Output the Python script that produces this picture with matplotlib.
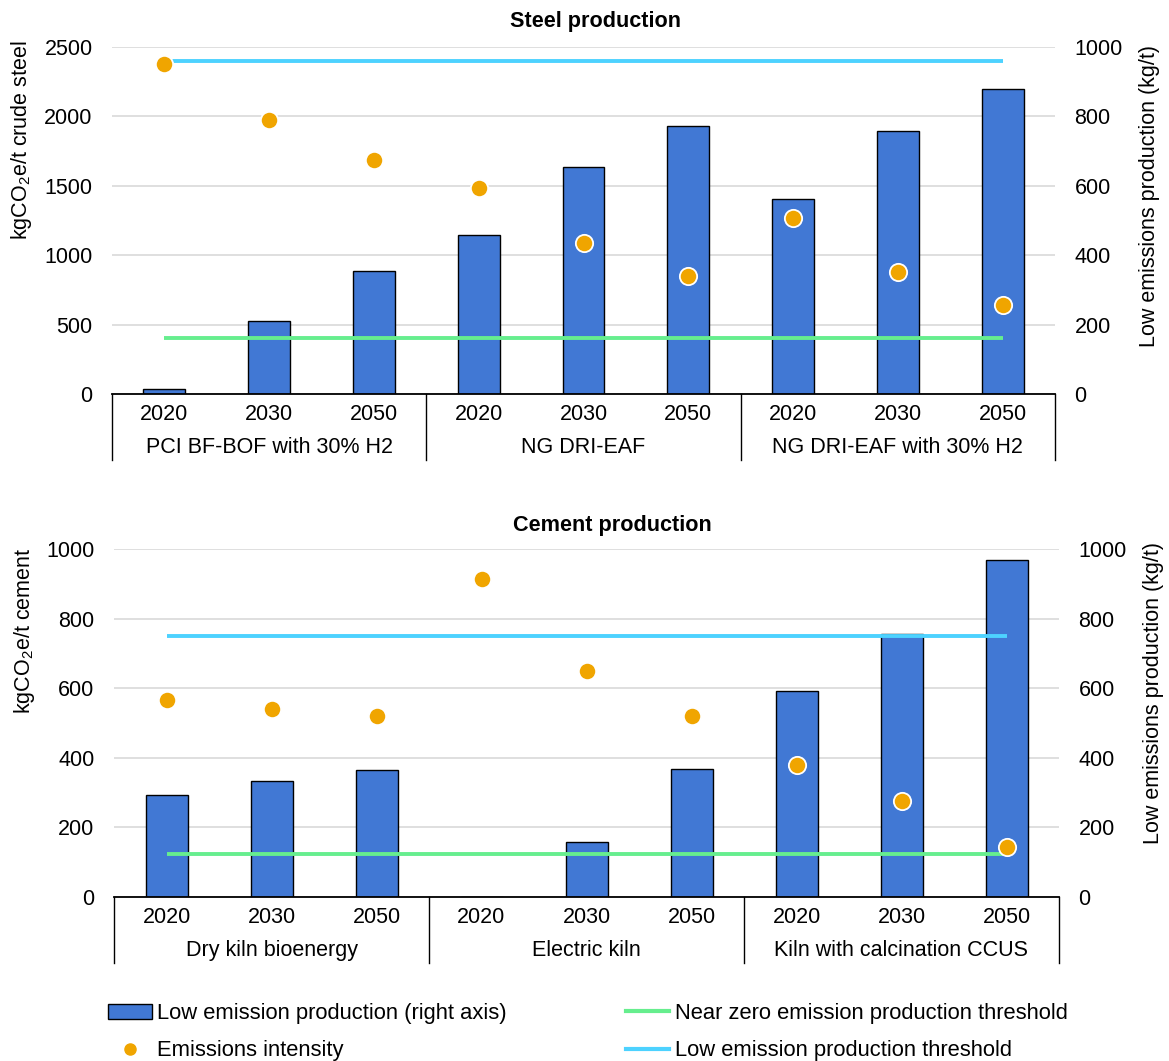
import matplotlib.pyplot as plt
import matplotlib.transforms as mtransforms
from matplotlib.lines import Line2D
from matplotlib.patches import Patch
import numpy as np

plt.rcParams['font.family'] = ['Liberation Sans', 'DejaVu Sans']
plt.rcParams['mathtext.fontset'] = 'custom'
plt.rcParams['mathtext.rm'] = 'Liberation Sans'
plt.rcParams['mathtext.it'] = 'Liberation Sans'
plt.rcParams['font.size'] = 15.5

years = ['2020', '2030', '2050']

# steel
steel_groups = ['PCI BF-BOF with 30% H2', 'NG DRI-EAF', 'NG DRI-EAF with 30% H2']
steel_prod = [14, 211, 355, 458, 654, 773, 562, 759, 878]
steel_intensity = [2375, 1975, 1685, 1485, 1088, 850, 1270, 878, 640]
steel_near_zero = 400
steel_low = 2400

# cement
cement_groups = ['Dry kiln bioenergy', 'Electric kiln', 'Kiln with calcination CCUS']
cement_prod = [294, 334, 366, 0, 158, 367, 591, 757, 968]
cement_intensity = [565, 540, 519, 914, 649, 519, 379, 275, 144]
cement_near_zero = 125
cement_low = 750

BAR = '#4178D4'
DOT = '#F0A500'
GREEN = '#66EE8E'
CYAN = '#4DD2FF'
GRID = '#D9D9D9'

fig = plt.figure(figsize=(11.69, 10.61), dpi=100)


def panel(rect, groups, prod, intensity, near_zero, low, lmax, lstep, rmax, rstep):
    ax = fig.add_axes(rect)
    ax2 = ax.twinx()
    ax.set_zorder(ax2.get_zorder() + 1)
    ax.patch.set_visible(False)

    labels = [y for g in groups for y in years]
    x = np.arange(len(labels))

    ax2.bar(x, prod, width=0.4, color=BAR, edgecolor='black', linewidth=1, zorder=2)
    ax.hlines(near_zero, x[0], x[-1], color=GREEN, linewidth=2.8, zorder=3)
    ax.hlines(low, x[0], x[-1], color=CYAN, linewidth=2.8, zorder=3)
    ax.scatter(x, intensity, s=155, color=DOT, edgecolor='white', linewidth=1.3, zorder=4)

    ax.set_xlim(-0.5, len(labels) - 0.5)
    ax.set_ylim(0, lmax)
    ax2.set_ylim(0, rmax)
    ax.set_yticks(np.arange(0, lmax + 1, lstep))
    ax2.set_yticks(np.arange(0, rmax + 1, rstep))
    ax2.yaxis.grid(True, color=GRID, linewidth=1.2)
    ax2.set_axisbelow(True)

    ax.set_xticks(x)
    ax.set_xticklabels(labels)
    ax.tick_params(axis='x', length=0, pad=7)
    ax.tick_params(axis='y', length=0, pad=14)
    ax2.tick_params(axis='y', length=0, pad=14)

    for a in (ax, ax2):
        for s in ['left', 'right', 'top']:
            a.spines[s].set_visible(False)
    ax.spines['bottom'].set_linewidth(1.3)
    ax2.spines['bottom'].set_visible(False)

    trans = mtransforms.blended_transform_factory(ax.transData, ax.transAxes)
    for i in range(len(groups) + 1):
        ax.plot([i * 3 - 0.5, i * 3 - 0.5], [0, -0.19], transform=trans,
                color='black', linewidth=1, clip_on=False)
    for i, g in enumerate(groups):
        ax.text(i * 3 + 1, -0.153, g, transform=trans, ha='center', va='center')
    return ax, ax2


H = 1061
W = 1169
panel([112 / W, 1 - 394 / H, (1055 - 112) / W, 347 / H], steel_groups, steel_prod,
      steel_intensity, steel_near_zero, steel_low, 2500, 500, 1000, 200)
panel([114 / W, 1 - 897 / H, (1059 - 114) / W, 348 / H], cement_groups, cement_prod,
      cement_intensity, cement_near_zero, cement_low, 1000, 200, 1000, 200)

fig.text(596 / W, 1 - 22 / H, 'Steel production', ha='center', va='center',
         fontweight='bold', fontsize=15.6)
fig.text(612 / W, 1 - 525 / H, 'Cement production', ha='center', va='center',
         fontweight='bold', fontsize=15.6)

fig.text(22 / W, 1 - 40 / H, r'kgCO$_2$e/t crude steel', rotation=90, ha='center', va='top')
fig.text(1150 / W, 1 - 45 / H, 'Low emissions production (kg/t)', rotation=90, ha='center', va='top')
fig.text(25 / W, 1 - 548 / H, r'kgCO$_2$e/t cement', rotation=90, ha='center', va='top')
fig.text(1153 / W, 1 - 542 / H, 'Low emissions production (kg/t)', rotation=90, ha='center', va='top')

handles = [
    Patch(facecolor=BAR, edgecolor='black', linewidth=1),
    Line2D([], [], marker='o', linestyle='none', color=DOT, markersize=8),
    Line2D([], [], color=GREEN, linewidth=3),
    Line2D([], [], color=CYAN, linewidth=3),
]
names = ['Low emission production (right axis)', 'Emissions intensity',
         'Near zero emission production threshold', 'Low emission production threshold']
fig.legend(handles, names, ncol=2, loc='upper left', bbox_to_anchor=(108 / W, 1 - 1003 / H),
           frameon=False, handlelength=2.0, handletextpad=0.25, columnspacing=5.4,
           labelspacing=0.75, borderaxespad=0, borderpad=0, fontsize=15.8)

fig.savefig('out.png', dpi=100)
